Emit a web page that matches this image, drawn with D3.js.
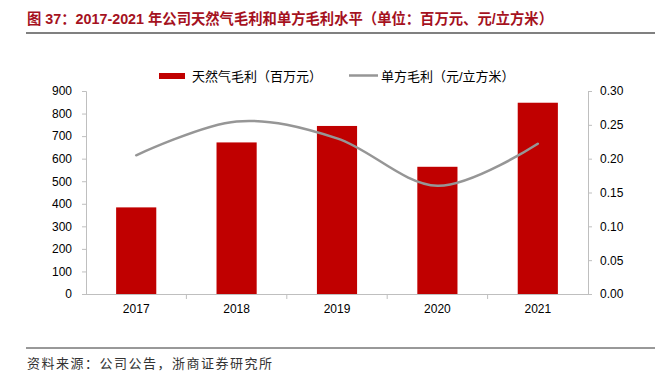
<!DOCTYPE html>
<html>
<head>
<meta charset="utf-8">
<script src="https://cdn.jsdelivr.net/npm/d3@7"></script>
<style>
  body { margin: 0; background: #fff; }
  svg { display: block; }
</style>
</head>
<body>
<svg id="chart" width="662" height="378"></svg>
<script>
// values
const years = ["2017", "2018", "2019", "2020", "2021"];
const grossProfit = [384, 672, 745, 564, 848];          // 百万元
const unitProfit = [0.205, 0.255, 0.230, 0.160, 0.222]; // 元/立方米
const leftTicks = [0, 100, 200, 300, 400, 500, 600, 700, 800, 900];
const rightTicks = [0, 0.05, 0.10, 0.15, 0.20, 0.25, 0.30];

const titleText = "图 37：2017-2021 年公司天然气毛利和单方毛利水平（单位：百万元、元/立方米）";
const sourceText = "资料来源：公司公告，浙商证券研究所";

const svg = d3.select("#chart");
const font = "'Liberation Sans', Arial, 'Noto Sans CJK SC', sans-serif";
const cjk = "'Liberation Sans', 'Noto Sans CJK SC', sans-serif";
const axisColor = "#bfbfbf";

const plot = {left: 86, right: 588, top: 91, bottom: 294};

const x = d3.scaleBand()
    .domain(years)
    .range([plot.left, plot.right])
    .paddingInner(0.6)
    .paddingOuter(0.3);

const xBand = d3.scaleBand()
    .domain(years)
    .range([plot.left, plot.right]);

const yL = d3.scaleLinear().domain([0, 900]).range([plot.bottom, plot.top]);
const yR = d3.scaleLinear().domain([0, 0.30]).range([plot.bottom, plot.top]);

// title
svg.append("text")
    .attr("x", 27)
    .attr("y", 24)
    .attr("fill", "#a5121e")
    .attr("font-family", cjk)
    .attr("font-weight", "bold")
    .attr("font-size", 15)
    .attr("textLength", 526)
    .attr("lengthAdjust", "spacingAndGlyphs")
    .text(titleText);

svg.append("line")
    .attr("x1", 26).attr("x2", 655)
    .attr("y1", 33).attr("y2", 33)
    .attr("stroke", "#808080")
    .attr("stroke-width", 1.8);

// bars
svg.append("g")
    .selectAll("rect")
    .data(grossProfit)
    .join("rect")
    .attr("x", (d, i) => x(years[i]))
    .attr("width", x.bandwidth())
    .attr("y", d => yL(d))
    .attr("height", d => yL(0) - yL(d))
    .attr("fill", "#c00000");

// line
const line = d3.line()
    .x((d, i) => xBand(years[i]) + xBand.bandwidth() / 2)
    .y(d => yR(d))
    .curve(d3.curveCardinal.tension(0));

svg.append("path")
    .datum(unitProfit)
    .attr("d", line)
    .attr("fill", "none")
    .attr("stroke", "#969696")
    .attr("stroke-width", 2.5)
    .attr("stroke-linecap", "round");

// left axis
const gL = svg.append("g")
    .attr("transform", `translate(${plot.left},0)`)
    .call(d3.axisLeft(yL).tickValues(leftTicks).tickSize(4).tickPadding(10).tickFormat(d3.format("d")));

// right axis
const gR = svg.append("g")
    .attr("transform", `translate(${plot.right},0)`)
    .call(d3.axisRight(yR).tickValues(rightTicks).tickSize(4).tickPadding(8).tickFormat(d3.format(".2f")));

// x axis
const gX = svg.append("g")
    .attr("transform", `translate(0,${plot.bottom})`)
    .call(d3.axisBottom(x).tickSize(0).tickPadding(10));

gX.selectAll(".tick").attr("transform", d => `translate(${xBand(d) + xBand.bandwidth() / 2},0)`);
gX.select(".domain").attr("d", `M${plot.left},0.5H${plot.right}`);

gX.append("g")
    .selectAll("line")
    .data(years.slice(1))
    .join("line")
    .attr("x1", d => xBand(d)).attr("x2", d => xBand(d))
    .attr("y1", 0).attr("y2", 5)
    .attr("stroke", axisColor);

[gL, gR, gX].forEach(g => {
    g.selectAll(".domain").attr("stroke", axisColor);
    g.selectAll(".tick line").attr("stroke", axisColor);
    g.selectAll("text")
        .attr("font-family", font)
        .attr("font-size", 12)
        .attr("fill", "#000");
});
gL.select(".domain").attr("d", `M-4,${plot.top + 0.5}H0.5V${plot.bottom + 0.5}H-4`);
gR.select(".domain").attr("d", `M4,${plot.top + 0.5}H0.5V${plot.bottom + 0.5}H4`);

// legend
const legend = svg.append("g").attr("font-family", cjk).attr("font-size", 13).attr("fill", "#000");
legend.append("rect")
    .attr("x", 159).attr("y", 73)
    .attr("width", 26).attr("height", 6)
    .attr("fill", "#c00000");
legend.append("text")
    .attr("x", 192).attr("y", 80.5)
    .text("天然气毛利（百万元）");
legend.append("line")
    .attr("x1", 349).attr("x2", 378)
    .attr("y1", 75.5).attr("y2", 75.5)
    .attr("stroke", "#969696")
    .attr("stroke-width", 2.5);
legend.append("text")
    .attr("x", 381).attr("y", 80.5)
    .text("单方毛利（元/立方米）");

// source
svg.append("line")
    .attr("x1", 26).attr("x2", 655)
    .attr("y1", 348).attr("y2", 348)
    .attr("stroke", "#333")
    .attr("stroke-width", 1);

svg.append("text")
    .attr("x", 27)
    .attr("y", 368)
    .attr("fill", "#333")
    .attr("font-family", "'Noto Sans CJK SC', sans-serif")
    .attr("font-size", 13)
    .attr("letter-spacing", 1.5)
    .text(sourceText);
</script>
</body>
</html>
